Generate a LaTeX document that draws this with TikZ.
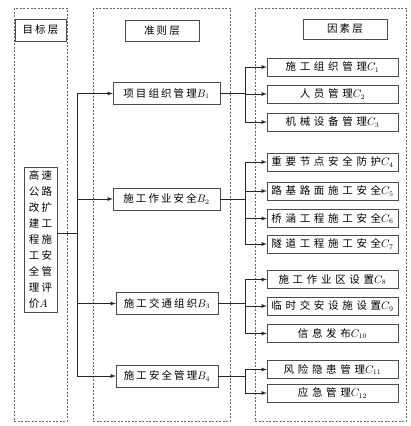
\documentclass[tikz,border=0pt]{standalone}
\usepackage{fontspec}
\newfontfamily\cjkb[LetterSpace=20]{Noto Sans CJK SC}
\newfontfamily\cjkc[LetterSpace=35]{Noto Sans CJK SC}
\usetikzlibrary{arrows}

\begin{document}
\begin{tikzpicture}[x=1pt, y=-1pt,
	hbox/.style={draw=black!70, fill=white, inner sep=0pt, font=\cjkb\fontsize{10.5}{12}\selectfont},
	bbox/.style={hbox, minimum height=22pt},
	cbox/.style={draw=black!70, fill=white, inner sep=0pt, minimum width=131pt, minimum height=18pt, font=\cjkc\fontsize{10.5}{12}\selectfont},
	layer/.style={draw=black!60, thin, dash pattern=on 2pt off 1.5pt},
	link/.style={draw=black!85, line width=0.8pt}]
	\useasboundingbox (0,0) rectangle (410,426);

	\draw[layer] (14,8) rectangle (67,421);
	\draw[layer] (93,8) rectangle (230,421);
	\draw[layer] (255,8) rectangle (406,421);

	\node[hbox, minimum width=51pt, minimum height=22pt] (h1) at (40.5,30) {目标层};
	\node[hbox, minimum width=74pt, minimum height=21pt] (h2) at (162,30.5) {准则层};
	\node[hbox, minimum width=84pt, minimum height=20pt] (h3) at (345,29) {因素层};

	\node[hbox, minimum width=33pt, minimum height=145pt, align=left, font=\cjkb\fontsize{10.5}{16}\selectfont] (a) at (40.5,239.5)
		{高速\\公路\\改扩\\建工\\程施\\工安\\全管\\理评\\价$A$};

	\node[bbox, minimum width=107pt] (b1) at (166.5,93.5) {项目组织管理$B_1$};
	\node[bbox, minimum width=107pt] (b2) at (166.5,199) {施工作业安全$B_2$};
	\node[bbox, minimum width=102pt] (b3) at (167,303.5) {施工交通组织$B_3$};
	\node[bbox, minimum width=102pt] (b4) at (167,376) {施工安全管理$B_4$};

	\node[cbox] (c1) at (332.5,67) {施工组织管理$C_1$};
	\node[cbox] (c2) at (332.5,94) {人员管理$C_2$};
	\node[cbox] (c3) at (332.5,122) {机械设备管理$C_3$};
	\node[cbox] (c4) at (332.5,162) {重要节点安全防护$C_4$};
	\node[cbox] (c5) at (332.5,191) {路基路面施工安全$C_5$};
	\node[cbox] (c6) at (332.5,218.5) {桥涵工程施工安全$C_6$};
	\node[cbox] (c7) at (332.5,244) {隧道工程施工安全$C_7$};
	\node[cbox] (c8) at (332.5,279.5) {施工作业区设置$C_8$};
	\node[cbox] (c9) at (332.5,306) {临时交安设施设置$C_9$};
	\node[cbox] (c10) at (332.5,333.5) {信息发布$C_{10}$};
	\node[cbox] (c11) at (332.5,369.5) {风险隐患管理$C_{11}$};
	\node[cbox] (c12) at (332.5,393) {应急管理$C_{12}$};

	\coordinate (ta) at (77,233);
	\coordinate (tc) at (245,0);
	\draw[link] (ta -| a.east) -- (ta);
	\foreach \b in {b1,b2,b3,b4}
		\draw[link, -latex] (ta) |- (\b.west);
	\foreach \b/\cs in {b1/{c1,c2,c3}, b2/{c4,c5,c6,c7}, b3/{c8,c9,c10}, b4/{c11,c12}} {
		\draw[link] (\b.east) -- (\b.east -| tc);
		\foreach \c in \cs
			\draw[link, -latex] (\b.east -| tc) |- (\c.west);
	}
\end{tikzpicture}
\end{document}
